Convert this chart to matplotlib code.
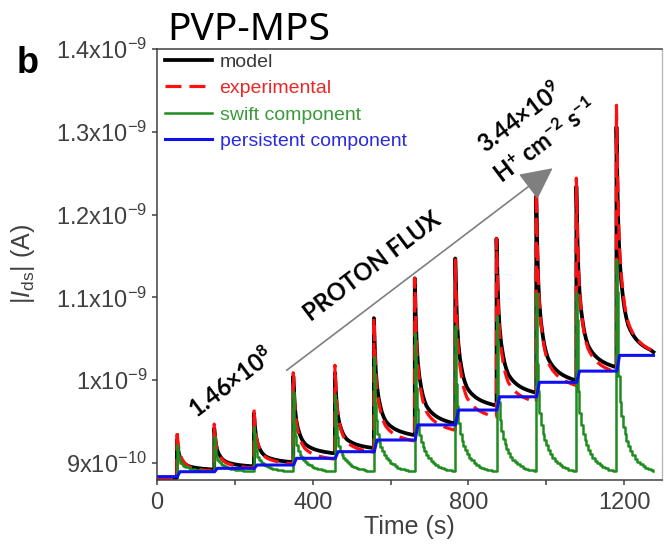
import numpy as np
import matplotlib
matplotlib.use('Agg')
import matplotlib.pyplot as plt
from matplotlib.ticker import FixedLocator

plt.rcParams['font.family'] = ['Liberation Sans', 'DejaVu Sans']
plt.rcParams['mathtext.fontset'] = 'custom'
plt.rcParams['mathtext.rm'] = 'Liberation Sans'
plt.rcParams['mathtext.it'] = 'Liberation Sans:italic'
plt.rcParams['mathtext.bf'] = 'Lato:bold'

# values, currents in units of 1e-10 A
onsets = [51, 147, 249, 350, 457, 557, 662, 766, 872, 974, 1077, 1180]
t_end = 1275

persistent_levels = [8.835, 8.895, 8.936, 8.976, 9.057, 9.137, 9.278, 9.46,
                     9.64, 9.80, 9.975, 10.11, 10.30]

model_start = 8.82
model_peaks = [9.28, 9.42, 9.60, 10.05, 10.09, 10.75, 11.23, 11.47, 11.71, 12.22, 12.34, 13.06]
model_settle = [8.92, 8.96, 9.01, 9.12, 9.18, 9.34, 9.48, 9.70, 9.85, 10.00, 10.16, 10.34]

exp_start = 8.81
exp_peaks = [9.40, 9.47, 9.65, 10.09, 10.18, 10.75, 11.23, 11.47, 11.71, 12.28, 12.44, 13.32]
exp_settle = [8.90, 8.94, 8.99, 9.05, 9.13, 9.27, 9.40, 9.56, 9.74, 9.94, 10.10, 10.34]

swift_start = 8.84
swift_peaks = [9.22, 9.32, 9.44, 9.86, 9.82, 10.28, 10.57, 10.65, 10.77, 11.05, 11.05, 11.45]
swift_floor = 8.90

# shape of the decay after each pulse (fraction of the pulse height)
decay_offsets = [0, 1, 3, 5, 8, 12, 17, 21, 25, 30, 35, 41, 47, 53, 60, 67, 74, 81, 88, 95, 100]
slow_fraction = [1.0, 0.9, 0.7, 0.55, 0.42, 0.32, 0.24, 0.19, 0.155, 0.12, 0.1, 0.08, 0.065,
                 0.052, 0.04, 0.03, 0.022, 0.015, 0.009, 0.004, 0.0]
swift_fraction = [1.0, 0.85, 0.6, 0.45, 0.33, 0.26, 0.21, 0.175, 0.145, 0.12, 0.095, 0.075, 0.06,
                  0.045, 0.033, 0.024, 0.016, 0.01, 0.006, 0.002, 0.0]

yticks = [9e-10, 1e-9, 1.1e-9, 1.2e-9, 1.3e-9, 1.4e-9]
ytick_labels = ['9x10$^{-10}$', '1x10$^{-9}$', '1.1x10$^{-9}$', '1.2x10$^{-9}$',
                '1.3x10$^{-9}$', '1.4x10$^{-9}$']
xticks = [0, 400, 800, 1200]
xticks_minor = [200, 600, 1000]


def pulse_trace(start, peaks, settles, fraction):
    t = [0.0]
    y = [start]
    level = start
    ends = onsets[1:] + [t_end]
    for t0, t1, pk, st in zip(onsets, ends, peaks, settles):
        t += [t0, t0]
        y += [level, pk]
        for off, fr in zip(decay_offsets[1:], fraction[1:]):
            if t0 + off >= t1:
                break
            t.append(t0 + off)
            y.append(st + (pk - st) * fr)
        level = st
    t.append(t_end)
    y.append(level)
    return np.array(t), np.array(y) * 1e-10


tm, ym = pulse_trace(model_start, model_peaks, model_settle, slow_fraction)
te, ye = pulse_trace(exp_start, exp_peaks, exp_settle, slow_fraction)
ts, ys = pulse_trace(swift_start, swift_peaks, [swift_floor] * len(onsets), swift_fraction)

tp = [0]
yp = [persistent_levels[0]]
for t0, lo, hi in zip(onsets, persistent_levels[:-1], persistent_levels[1:]):
    tp += [t0 + 1, t0 + 8]
    yp += [lo, hi]
tp.append(t_end)
yp.append(persistent_levels[-1])
yp = np.array(yp) * 1e-10

fig = plt.figure(figsize=(6.67, 5.47), dpi=100)
ax = fig.add_axes([157 / 667, 67 / 547, 505 / 667, 431 / 547])

ax.plot(tm, ym, color='black', lw=2.7, label='model')
ax.plot(te, ye, color='#ff1010', lw=2.3, ls=(0, (5, 2.5)), label='experimental')
ax.plot(ts, ys, color='#1e8c1e', lw=1.8, drawstyle='steps-post', label='swift component')
ax.plot(tp, yp, color='#1010ee', lw=2.2, label='persistent component')

ax.set_xlim(0, 1297)
ax.set_ylim(8.795e-10, 1.4e-9)
ax.xaxis.set_major_locator(FixedLocator(xticks))
ax.xaxis.set_minor_locator(FixedLocator(xticks_minor))
ax.set_yticks(yticks)
ax.set_yticklabels(ytick_labels)
ax.tick_params(which='both', length=3.6, width=1.1, color='#404040',
               labelcolor='#404040', labelsize=17, pad=3.5)
ax.tick_params(axis='x', pad=5)

for side in ['left', 'bottom', 'top']:
    ax.spines[side].set_color('#404040')
    ax.spines[side].set_linewidth(1.1)
ax.spines['right'].set_color('#b8b8b8')
ax.spines['right'].set_linewidth(1.0)

ax.set_xlabel('Time (s)', fontsize=18, color='#404040', labelpad=1)
ax.set_ylabel('|$I_{\\mathrm{ds}}$| (A)', fontsize=18, color='#404040')
ax.yaxis.set_label_coords(-0.238, 0.5)

leg = ax.legend(loc='upper left', bbox_to_anchor=(0.016, 0.99), frameon=False,
                fontsize=14, handlelength=2.4, handletextpad=0.4, labelspacing=0.45,
                borderpad=0, borderaxespad=0)
for txt, c in zip(leg.get_texts(), ['#383838', '#e82828', '#3a9a3a', '#2a2ae0']):
    txt.set_color(c)

# proton flux annotation
ax.annotate('', xy=(1016, 12.56e-10), xytext=(333, 10.12e-10),
            arrowprops=dict(arrowstyle='-|>,head_length=0.8,head_width=0.4',
                            mutation_scale=25, color='#7f7f7f', lw=1.2,
                            shrinkA=0, shrinkB=0))
ann = dict(rotation=37, rotation_mode='anchor', ha='center', va='center',
           fontsize=17, fontweight='bold', family='Lato', color='black')
ax.text(190, 9.97e-10, '1.46×10$^{\\mathbf{8}}$', **ann)
ax.text(553, 11.37e-10, 'PROTON FLUX', **ann)
ax.text(931, 13.17e-10, '3.44×10$^{\\mathbf{9}}$', **ann)
ax.text(998, 12.89e-10, 'H$^{\\mathbf{+}}$ cm$^{\\mathbf{-2}}$ s$^{\\mathbf{-1}}$', **ann)

fig.text(167 / 667, 1 - 40 / 547, 'PVP-MPS', family='Noto Sans', fontsize=28,
         va='baseline', ha='left', color='black')
fig.text(17 / 667, 1 - 73 / 547, 'b', fontsize=26, fontweight='bold',
         va='baseline', ha='left', color='black')

fig.savefig('out.png', dpi=100)
